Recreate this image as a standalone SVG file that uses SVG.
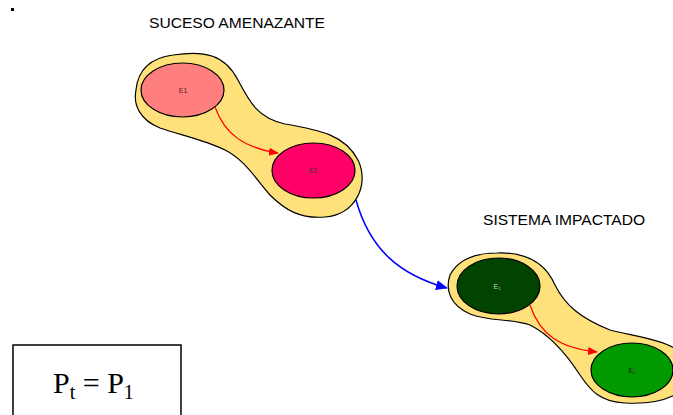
<svg xmlns="http://www.w3.org/2000/svg" width="673" height="415" viewBox="0 0 673 415">
<style>
.blob{fill:#FFE17B;stroke:#000;stroke-width:1.2}
.node{stroke:#000;stroke-width:1.2}
.title{font-family:"Liberation Sans",Arial,sans-serif;font-size:15.5px;fill:#000}
.lbl{font-family:"Liberation Sans",Arial,sans-serif;font-size:7px;text-anchor:middle}
.red{fill:none;stroke:#FF0000;stroke-width:1.2}
.blue{fill:none;stroke:#0000FF;stroke-width:1.5}
.math{font-family:"Liberation Serif","Times New Roman",serif;fill:#000}
</style>
<defs>
<marker id="ar" markerWidth="10" markerHeight="8" refX="9" refY="4" orient="auto" markerUnits="userSpaceOnUse"><path d="M0,0 L10,4 L0,8 Z" fill="#FF0000"/></marker>
<marker id="ab" markerWidth="12" markerHeight="10" refX="11" refY="5" orient="auto" markerUnits="userSpaceOnUse"><path d="M0,0 L12,5 L0,10 Z" fill="#0000FF"/></marker>
</defs>
<rect x="11" y="8" width="3" height="3" fill="#000"/>
<text class="title" x="149" y="28" textLength="176" lengthAdjust="spacingAndGlyphs">SUCESO AMENAZANTE</text>
<text class="title" x="483" y="225" textLength="162" lengthAdjust="spacingAndGlyphs">SISTEMA IMPACTADO</text>
<g id="suceso">
<path class="blob" d="M 173,55 C 205,50 225,55 238,80 C 250,103 258,118 285,124 C 320,130 345,135 358,160 C 370,185 355,215 325,217 C 300,219 285,210 270,195 C 255,178 245,160 225,150 C 205,140 180,135 160,128 C 140,120 133,105 136,90 C 138,70 150,58 173,55 Z"/>
</g>
<g id="sistema">
<path class="blob" d="M 497,253 C 525,252 545,262 555,285 C 565,305 580,318 610,330 C 640,338 680,340 690,365 C 695,395 660,405 625,403 C 600,402 590,390 580,375 C 565,352 550,335 530,325 C 510,318 490,322 470,314 C 450,305 445,290 450,275 C 458,260 475,253 497,253 Z"/>
</g>
<g id="e1-top">
<ellipse class="node" cx="182.5" cy="90" rx="41.5" ry="27" fill="#FF7F7F"/>
<text class="lbl" x="183" y="92.5" fill="#5A2020">E1</text>
</g>
<g id="e2-top">
<ellipse class="node" cx="313.5" cy="170.5" rx="41.5" ry="27.5" fill="#FF0066"/>
<text class="lbl" x="313" y="173" fill="#333">E2</text>
</g>
<g id="e1-bottom">
<ellipse class="node" cx="498.5" cy="286" rx="41.5" ry="28" fill="#004400"/>
<text class="lbl" x="497" y="288.5" fill="#CCCCCC">E<tspan font-size="4" dy="1">1</tspan></text>
</g>
<g id="e2-bottom">
<ellipse class="node" cx="632" cy="370" rx="41" ry="27" fill="#009900"/>
<text class="lbl" x="632" y="372.5" fill="#222">E<tspan font-size="4" dy="1">2</tspan></text>
</g>
<g id="connectors">
<path class="red" d="M 215,107 C 225,135 245,148 278,153" marker-end="url(#ar)"/>
<path class="red" d="M 530,305 C 540,335 560,348 597,352" marker-end="url(#ar)"/>
<path class="blue" d="M 356,200 C 370,250 400,275 447,288" marker-end="url(#ab)"/>
</g>
<g id="formula">
<rect x="13" y="345" width="168" height="80" fill="#fff" stroke="#000" stroke-width="1.5"/>
<text class="math" x="53" y="393" font-size="30">P<tspan font-size="20" dy="6">t</tspan><tspan dy="-6"> = P</tspan><tspan font-size="20" dy="6">1</tspan></text>
</g>
</svg>
